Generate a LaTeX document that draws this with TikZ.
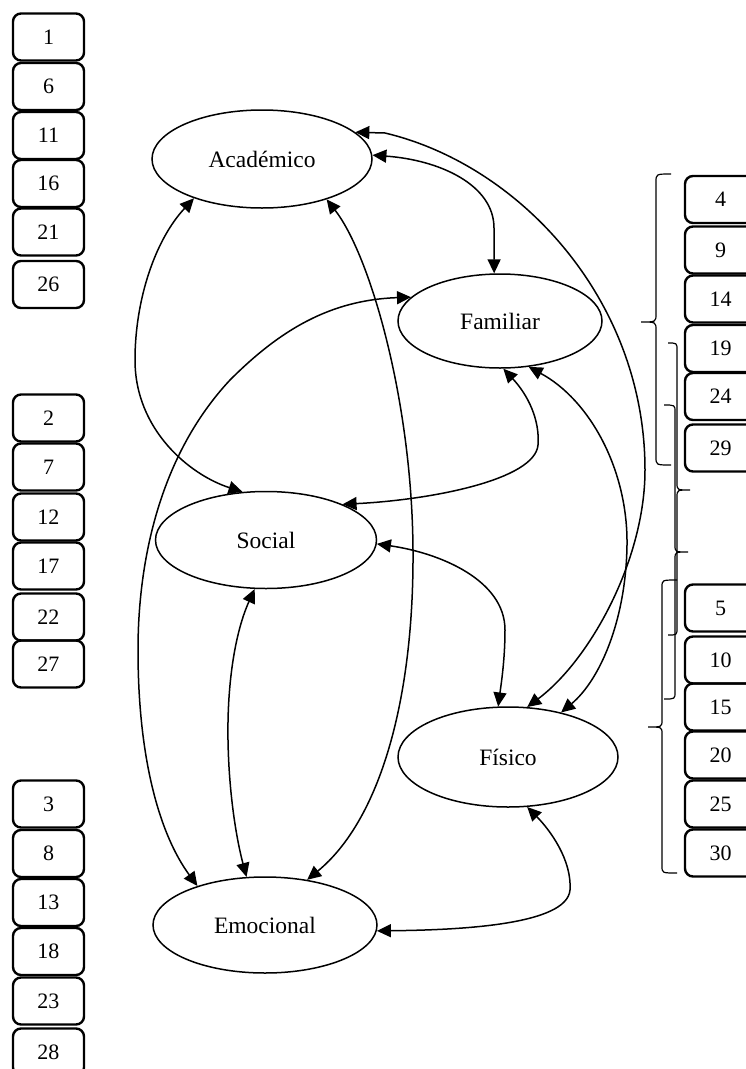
\documentclass[tikz,border=0pt]{standalone}
\usepackage{fontspec}
\setmainfont{Liberation Serif}
\usetikzlibrary{arrows.meta,shapes.geometric}
\begin{document}
\begin{tikzpicture}[x=1pt,y=-1pt,
  oval/.style={ellipse,draw,line width=1.5pt,inner sep=0pt,font=\fontsize{23.5}{26}\selectfont},
  numbox/.style={draw,rounded corners=8pt,line width=2.4pt,minimum width=71pt,minimum height=47pt,inner sep=0pt,font=\fontsize{22}{24}\selectfont},
  link/.style={line width=1.5pt,{Triangle[length=14pt,width=13pt]}-{Triangle[length=14pt,width=13pt]}},
  brace/.style={line width=1.2pt}
]
\fill[white] (0,0) rectangle (746,1069);
\useasboundingbox (0,0) rectangle (746,1069);

% left boxes
\foreach \t/\yy in {1/37,6/86.5,11/135.5,16/183.5,21/232,26/284.5,
                   2/418,7/467,12/517,17/566,22/617,27/664,
                   3/804,8/853.5,13/902.5,18/951.5,23/1001,28/1052}
  \node[numbox] (b\t) at (48.5,\yy) {\t};
% right boxes
\foreach \t/\yy in {4/199.5,9/250,14/299,19/348.5,24/396.5,29/448,
                   5/608,10/660,15/707,20/755,25/804,30/853}
  \node[numbox] (b\t) at (720.5,\yy) {\t};

% ovals
\node[oval,minimum width=220pt,minimum height=98pt] (acad) at (262,159) {Académico};
\node[oval,minimum width=204pt,minimum height=94pt] (fam) at (500,321) {Familiar};
\node[oval,minimum width=221pt,minimum height=97pt] (soc) at (266,540) {Social};
\node[oval,minimum width=220pt,minimum height=100pt] (fis) at (508,757) {Físico};
\node[oval,minimum width=224pt,minimum height=96pt] (emo) at (265,925) {Emocional};

% connectors
\draw[link] (acad.2) .. controls (440,160) and (494,185) .. (494,228) -- (fam.97);
\draw[link] (acad.16) -- (385,133) .. controls (520,165) and (645,300) .. (645,470) .. controls (645,560) and (590,660) .. (fis.69);
\draw[link] (fam.-58) .. controls (590,400) and (628,470) .. (627,545) .. controls (626,620) and (600,680) .. (fis.40);
\draw[link] (fam.-86) .. controls (528,395) and (540,420) .. (538,445) .. controls (535,480) and (430,500) .. (soc.25);
\draw[link] (acad.210) .. controls (155,240) and (135,300) .. (135,360) .. controls (135,430) and (190,475) .. (soc.116);
\draw[link] (acad.-32) .. controls (370,255) and (412,400) .. (413,550) .. controls (414,700) and (380,820) .. (emo.47);
\draw[link] (fam.165) .. controls (330,300) and (280,330) .. (230,380) .. controls (160,455) and (138,560) .. (138,650) .. controls (138,760) and (160,835) .. (emo.150);
\draw[link] (soc.-103) .. controls (236,630) and (227,680) .. (228,740) .. controls (229,800) and (238,845) .. (emo.111);
\draw[link] (soc.-2) .. controls (440,553) and (505,580) .. (505,630) .. controls (505,660) and (501,685) .. (fis.101);
\draw[link] (fis.-69) .. controls (550,830) and (572,860) .. (570,890) .. controls (567,925) and (460,930) .. (emo.-3);

% braces
\draw[brace] (671,174) .. controls (656,174) .. (656,182) -- (656,314) .. controls (656,322) .. (641,322) .. controls (656,322) .. (656,330) -- (656,457) .. controls (656,465) .. (671,465);
\draw[brace] (668,343) .. controls (677,343) .. (677,350) -- (677,483) .. controls (677,490) .. (690,490) .. controls (677,490) .. (677,497) -- (677,628) .. controls (677,635) .. (668,635);
\draw[brace] (664,405) .. controls (675,405) .. (675,412) -- (675,545) .. controls (675,552) .. (688,552) .. controls (675,552) .. (675,559) -- (675,692) .. controls (675,699) .. (664,699);
\draw[brace] (677,580) .. controls (662,580) .. (662,587) -- (662,720) .. controls (662,727) .. (648,727) .. controls (662,727) .. (662,734) -- (662,866) .. controls (662,873) .. (677,873);
\end{tikzpicture}
\end{document}
